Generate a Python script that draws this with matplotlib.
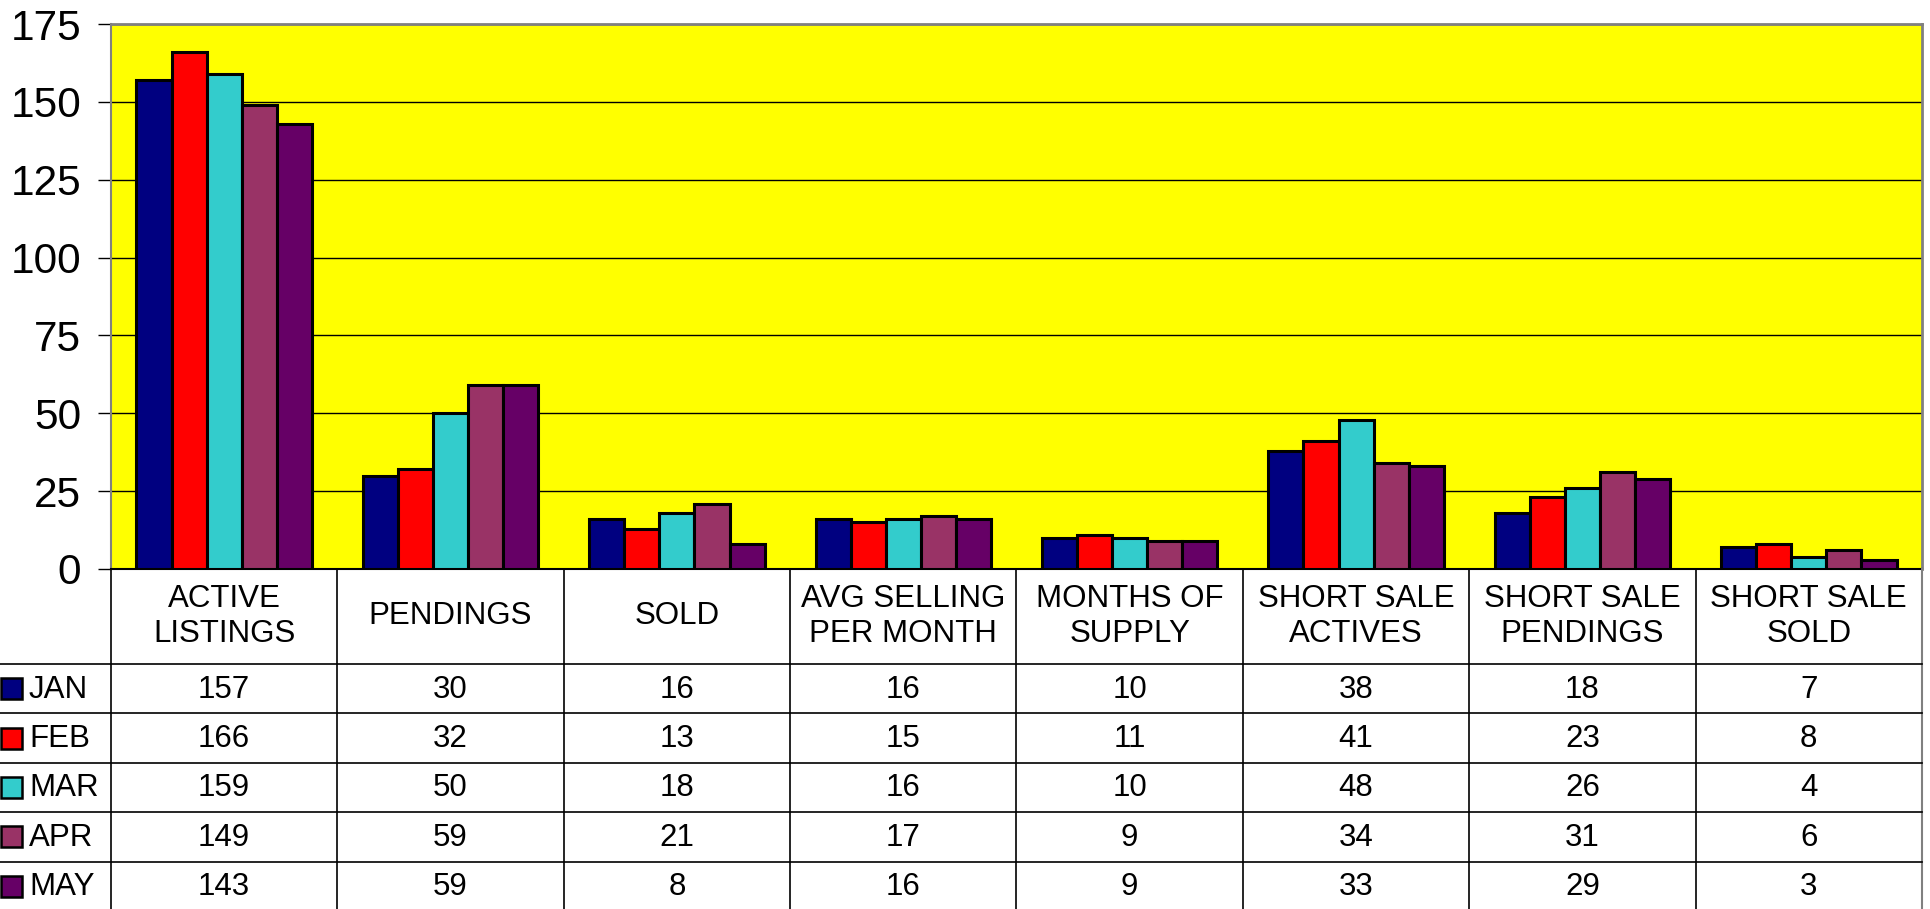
import matplotlib
matplotlib.use("Agg")
import matplotlib.pyplot as plt
import numpy as np
from matplotlib.patches import Rectangle

plt.rcParams['font.family'] = ['Liberation Sans', 'DejaVu Sans']

categories = ["ACTIVE\nLISTINGS", "PENDINGS", "SOLD", "AVG SELLING\nPER MONTH",
              "MONTHS OF\nSUPPLY", "SHORT SALE\nACTIVES", "SHORT SALE\nPENDINGS", "SHORT SALE\nSOLD"]
months = ["JAN", "FEB", "MAR", "APR", "MAY"]
jan = [157, 30, 16, 16, 10, 38, 18, 7]
feb = [166, 32, 13, 15, 11, 41, 23, 8]
mar = [159, 50, 18, 16, 10, 48, 26, 4]
apr = [149, 59, 21, 17, 9, 34, 31, 6]
may = [143, 59, 8, 16, 9, 33, 29, 3]
series = [jan, feb, mar, apr, may]
colors = ["#000080", "#FF0000", "#33CCCC", "#993366", "#660066"]
yticks = [0, 25, 50, 75, 100, 125, 150, 175]

W, H = 1931, 909
fig = plt.figure(figsize=(W / 100, H / 100), dpi=100)

# pixel layout
L, R, T, B = 111, 1922, 24, 569
ax = fig.add_axes([L / W, 1 - B / H, (R - L) / W, (B - T) / H])
ax.set_facecolor("#FFFF00")
n = len(categories)
x = np.arange(n)
bw = 0.155
for i, (vals, c) in enumerate(zip(series, colors)):
    ax.bar(x + (i - 2) * bw, vals, width=bw, color=c, edgecolor="black",
           linewidth=2.2, zorder=3)
ax.set_xlim(-0.5, n - 0.5)
ax.set_ylim(0, 175)
ax.set_yticks(yticks)
ax.set_yticklabels([str(v) for v in yticks], fontsize=30.5)
ax.tick_params(axis="y", direction="out", length=9.5, width=1, pad=12, color="black")
ax.set_xticks([])
ax.grid(axis="y", color="black", linewidth=1, zorder=1)
ax.set_axisbelow(True)
for s in ["top", "right"]:
    ax.spines[s].set_color("#808080")
    ax.spines[s].set_linewidth(2)
ax.spines["left"].set_color("#808080")
ax.spines["left"].set_linewidth(1.5)
ax.spines["bottom"].set_color("black")
ax.spines["bottom"].set_linewidth(1.5)

# table overlay
tax = fig.add_axes([0, 0, 1, 1])
tax.set_xlim(0, W)
tax.set_ylim(H, 0)
tax.axis("off")
colw = (R - L) / n
hdr_bot = 664
rowh = 49.4
fs = 22.5
# header
for j, cat in enumerate(categories):
    cx = L + (j + 0.5) * colw
    tax.text(cx, (B + hdr_bot) / 2, cat, ha="center", va="center", fontsize=fs,
             linespacing=1.22)
# vertical lines
for j in range(n + 1):
    xx = L + j * colw
    col = "#808080" if j == n else "black"
    tax.plot([xx, xx], [B, H], color=col, linewidth=1.5 if j == n else 1.2)
# rows
for i, (m, vals, c) in enumerate(zip(months, series, colors)):
    top = hdr_bot + i * rowh
    cy = top + rowh / 2
    tax.plot([0, R], [top, top], color="black", linewidth=1.2)
    tax.add_patch(Rectangle((1, cy - 10.5), 21, 21, facecolor=c, edgecolor="black",
                            linewidth=1.8))
    tax.text(29, cy + 1, m, ha="left", va="center", fontsize=fs)
    for j, v in enumerate(vals):
        tax.text(L + (j + 0.5) * colw, cy + 1, str(v), ha="center", va="center",
                 fontsize=fs)

fig.savefig("out.png", dpi=100, facecolor="white")
